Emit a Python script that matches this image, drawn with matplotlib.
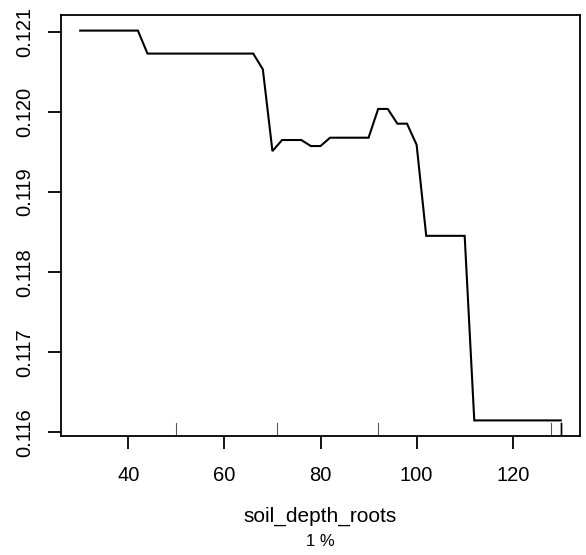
import matplotlib
matplotlib.use("Agg")
import matplotlib.pyplot as plt
import numpy as np

# partial dependence of soil_depth_roots (breakpoints)
soil_depth = [30, 42, 44, 66, 68, 70, 72, 76, 78, 80, 82, 90, 92, 94, 96, 98,
              100, 102, 110, 112, 130]
yhat = [0.121016, 0.121016, 0.120729, 0.120729, 0.120533, 0.119512, 0.119650,
        0.119650, 0.119575, 0.119575, 0.119679, 0.119679, 0.120038, 0.120038,
        0.119854, 0.119854, 0.119591, 0.118454, 0.118454, 0.116150, 0.116150]
# rug at deciles of the variable
rug_x = [50, 71, 92, 128, 130, 130]

x_ticks = [40, 60, 80, 100, 120]
y_ticks = [0.116, 0.117, 0.118, 0.119, 0.120, 0.121]
y_ticklabels = ["0.116", "0.117", "0.118", "0.119", "0.120", "0.121"]
xlabel = "soil_depth_roots"
sublabel = "1 %"

plt.rcParams['font.family'] = ['Liberation Sans', 'DejaVu Sans']

W, H = 586, 555
fig = plt.figure(figsize=(W / 100, H / 100), dpi=100)
ax = fig.add_axes([61 / W, (H - 436) / H, (580 - 61) / W, (436 - 15) / H])

ax.plot(soil_depth, yhat, color='black', lw=1.5, solid_joinstyle='miter')

xr = max(soil_depth) - min(soil_depth)
ax.set_xlim(min(soil_depth) - 0.04 * xr, max(soil_depth) + 0.04 * xr)
yr = max(yhat) - min(yhat)
ax.set_ylim(min(yhat) - 0.04 * yr, max(yhat) + 0.04 * yr)

# rug
for r in rug_x:
    ax.axvline(r, ymin=0, ymax=0.03, color='black' if r == 130 else '#555555',
               lw=1.0 if r == 130 else 0.8)

ax.set_xticks(x_ticks)
ax.set_xticklabels([str(t) for t in x_ticks])
ax.set_yticks(y_ticks)
ax.set_yticklabels(y_ticklabels, rotation=90, va='center')
ax.tick_params(axis='both', length=9.4, width=1.3, labelsize=14.5, direction='out')
ax.tick_params(axis='x', pad=12.5)
ax.tick_params(axis='y', pad=10)

for s in ax.spines.values():
    s.set_linewidth(1.3)

fig.text((61 + 580) / 2 / W, (H - 516) / H, xlabel, ha='center', va='center', fontsize=15)
fig.text((61 + 580) / 2 / W, (H - 546) / H, sublabel, ha='center', va='baseline', fontsize=12)

fig.savefig("out.png", dpi=100)
